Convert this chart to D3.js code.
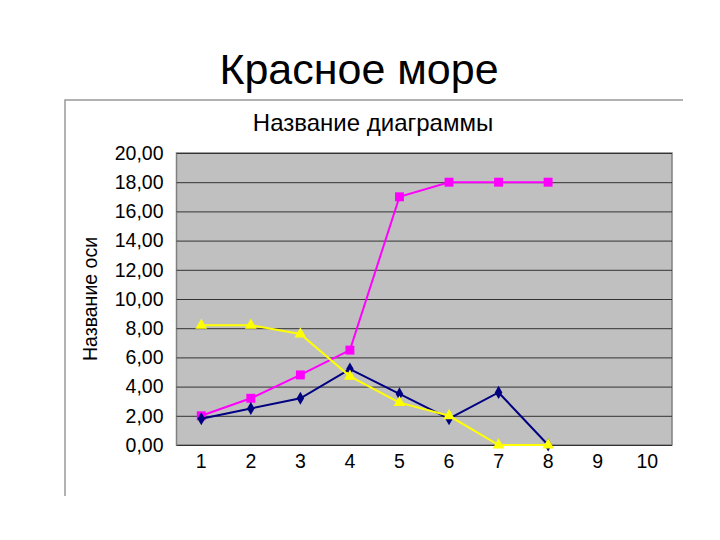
<!DOCTYPE html>
<html><head><meta charset="utf-8">
<script src="https://cdn.jsdelivr.net/npm/d3@7"></script>
<style>body{margin:0;background:#fff}</style></head>
<body><svg id="c" width="720" height="540"></svg>
<script>
const categories = [1,2,3,4,5,6,7,8,9,10];
const navy = [1.8,2.5,3.2,5.2,3.5,1.8,3.6,0];
const magenta = [2.0,3.2,4.8,6.5,17.0,18,18,18];
const yellow = [8.2,8.2,7.6,4.7,2.9,2.0,0,0];
const yTicks = [0,2,4,6,8,10,12,14,16,18,20];

const svg = d3.select("#c");
const font = "Arial, 'Liberation Sans', sans-serif";
svg.append("text").attr("x",359).attr("y",84).attr("text-anchor","middle")
  .attr("font-family",font).attr("font-size",43).text("Красное море");
svg.append("path").attr("d","M65,496V100H683").attr("fill","none").attr("stroke","#999").attr("stroke-width",1.5);
svg.append("text").attr("x",373).attr("y",131).attr("text-anchor","middle")
  .attr("font-family",font).attr("font-size",24).text("Название диаграммы");

const L=176.5,R=672,T=153,B=445;
const x = d3.scaleBand().domain(categories).range([L,R]);
const y = d3.scaleLinear().domain([0,20]).range([B,T]);
svg.append("rect").attr("x",L).attr("y",T).attr("width",R-L).attr("height",B-T)
  .attr("fill","#c0c0c0").attr("stroke","#808080").attr("stroke-width",1.5);
const ya = svg.append("g").attr("transform",`translate(${L},0)`)
  .call(d3.axisLeft(y).tickValues(yTicks).tickSize(-(R-L)).tickFormat(d=>d3.format(".2f")(d).replace(".",",")));
ya.select(".domain").remove();
ya.selectAll("line").attr("stroke","#333").attr("stroke-width",1);
ya.selectAll("text").attr("font-family",font).attr("font-size",19.5).attr("fill","#000").attr("dx",-10);
const xa = svg.append("g").attr("transform",`translate(0,${B})`).call(d3.axisBottom(x).tickSize(0));
xa.select(".domain").remove();
xa.selectAll("text").attr("font-family",font).attr("font-size",19.5).attr("fill","#000").attr("dy",20);
svg.append("text").attr("transform",`translate(97,299) rotate(-90)`).attr("text-anchor","middle")
  .attr("font-family",font).attr("font-size",19.5).text("Название оси");

const cx = i => x(categories[i]) + x.bandwidth()/2;
const line = d3.line().x((d,i)=>cx(i)).y(d=>y(d));
function series(data,color,sym,size){
  svg.append("path").datum(data).attr("d",line).attr("fill","none").attr("stroke",color).attr("stroke-width",2);
  svg.selectAll(null).data(data).enter().append("path")
    .attr("transform",(d,i)=>`translate(${cx(i)},${y(d)})`)
    .attr("d",d3.symbol().type(sym).size(size)).attr("fill",color);
}
series(magenta,"#ff00ff",d3.symbolSquare,80);
series(navy,"#000080",d3.symbolDiamond,50);
series(yellow,"#ffff00",d3.symbolTriangle,60);
</script></body></html>
